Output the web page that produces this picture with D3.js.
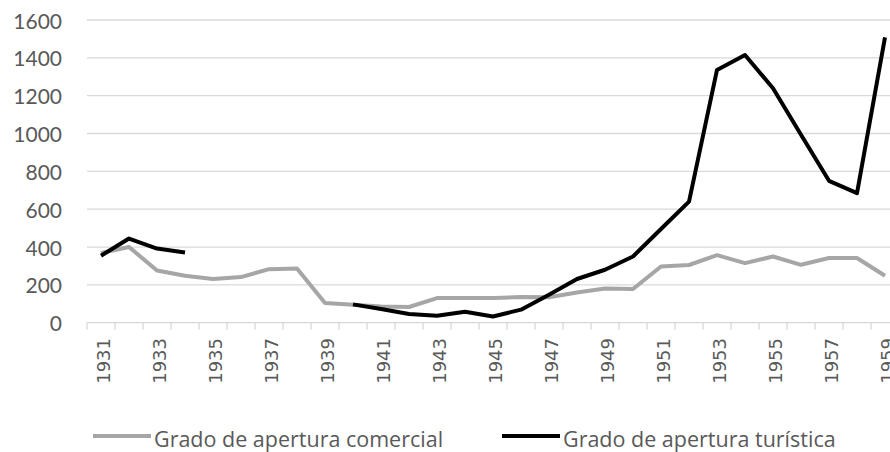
<!DOCTYPE html>
<html>
<head>
<meta charset="utf-8">
<script src="https://cdn.jsdelivr.net/npm/d3@7"></script>
<style>
  html, body { margin: 0; padding: 0; background: #fff; }
  svg { display: block; }
</style>
</head>
<body>
<svg id="chart" width="890" height="452"></svg>
<script>
// Years on the category axis
const years = d3.range(1931, 1960);
// Grado de apertura comercial
const comercial = [368, 400, 276, 248, 231, 241, 283, 287, 104, 95, 86, 83, 130, 130, 130, 136, 135, 160, 181, 178, 297, 305, 357, 315, 350, 306, 342, 342, 248];
// Grado de apertura turística (no data 1935–1939)
const turistica = [354, 445, 392, 371, null, null, null, null, null, 97, 72, 46, 37, 58, 33, 69, 148, 231, 280, 350, 495, 640, 1336, 1415, 1239, 993, 750, 685, 1508];
const yTicks = [0, 200, 400, 600, 800, 1000, 1200, 1400, 1600];
const xLabelYears = years.filter((y, i) => i % 2 === 0);
const seriesNames = ["Grado de apertura comercial", "Grado de apertura turística"];

const svg = d3.select("#chart");
const step = 28;
const x0 = 87;
const x = d3.scaleBand().domain(years).range([x0, x0 + step * years.length]).padding(0);
const y = d3.scaleLinear().domain([0, 1600]).range([322.7, 20]);
const cx = d => x(d) + x.bandwidth() / 2;

const gridColor = "#d9d9d9";
const textColor = "#595959";

// Horizontal gridlines
svg.append("g").selectAll("line")
  .data(yTicks.filter(v => v > 0))
  .join("line")
  .attr("x1", x0).attr("x2", x.range()[1])
  .attr("y1", d => y(d)).attr("y2", d => y(d))
  .attr("stroke", gridColor).attr("stroke-width", 1.3);

// Y tick labels
svg.append("g").selectAll("text")
  .data(yTicks)
  .join("text")
  .attr("x", 62).attr("y", d => y(d))
  .attr("text-anchor", "end")
  .attr("dominant-baseline", "central")
  .attr("font-family", "Lato, 'Open Sans', sans-serif")
  .attr("font-size", 21)
  .attr("fill", textColor)
  .text(d => d);

// Category axis line with tick marks between categories
const axisG = svg.append("g");
axisG.append("line")
  .attr("x1", x0).attr("x2", x.range()[1])
  .attr("y1", y(0)).attr("y2", y(0))
  .attr("stroke", gridColor).attr("stroke-width", 1.3);
axisG.selectAll("line.tick")
  .data(years.concat([null]))
  .join("line")
  .attr("class", "tick")
  .attr("x1", (d, i) => x0 + i * step).attr("x2", (d, i) => x0 + i * step)
  .attr("y1", y(0)).attr("y2", y(0) + 7)
  .attr("stroke", gridColor).attr("stroke-width", 1.3);

// Rotated year labels
axisG.selectAll("text")
  .data(xLabelYears)
  .join("text")
  .attr("transform", d => `translate(${cx(d) + 2},338) rotate(-90)`)
  .attr("text-anchor", "end")
  .attr("dominant-baseline", "central")
  .attr("font-family", "'DejaVu Sans', sans-serif")
  .attr("font-size", 18)
  .attr("fill", textColor)
  .text(d => d);

// Lines
const line = d3.line()
  .defined(d => d.v !== null)
  .x(d => cx(d.year))
  .y(d => y(d.v));

const series = [
  { name: seriesNames[0], values: comercial, color: "#a6a6a6" },
  { name: seriesNames[1], values: turistica, color: "#000000" }
];

svg.append("g").selectAll("path")
  .data(series)
  .join("path")
  .attr("d", s => line(years.map((yr, i) => ({ year: yr, v: s.values[i] }))))
  .attr("fill", "none")
  .attr("stroke", s => s.color)
  .attr("stroke-width", 4)
  .attr("stroke-linejoin", "round");

// Legend
const legendPos = [93, 502];
const legend = svg.append("g").selectAll("g")
  .data(series)
  .join("g")
  .attr("transform", (d, i) => `translate(${legendPos[i]},436)`);
legend.append("line")
  .attr("x1", 0).attr("x2", 58)
  .attr("y1", 0).attr("y2", 0)
  .attr("stroke", d => d.color)
  .attr("stroke-width", 4);
legend.append("text")
  .attr("x", 61).attr("y", 2)
  .attr("dominant-baseline", "central")
  .attr("font-family", "'Open Sans', Lato, sans-serif")
  .attr("font-size", 21.5)
  .attr("fill", textColor)
  .text(d => d.name);
</script>
</body>
</html>
